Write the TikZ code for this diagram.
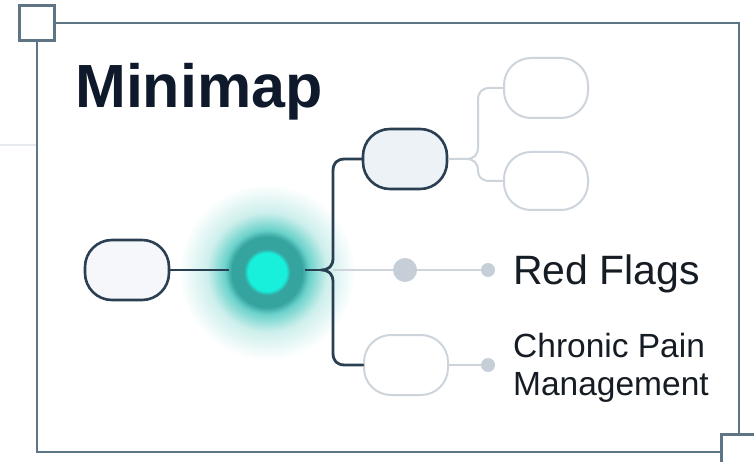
\documentclass[tikz,border=0pt]{standalone}
\usepackage{fontspec}
\setmainfont{Liberation Sans}
\definecolor{frameC}{HTML}{5E7585}
\definecolor{darkC}{HTML}{2B3F52}
\definecolor{lightC}{HTML}{CDD4DB}
\definecolor{dotC}{HTML}{C6CFD8}
\definecolor{pillFill}{HTML}{EDF2F7}
\definecolor{pillFillB}{HTML}{F5F7FA}
\definecolor{titleC}{HTML}{0E1A2B}
\definecolor{textC}{HTML}{151C24}
\definecolor{faintC}{HTML}{E6EAEE}
\definecolor{coreC}{HTML}{18F0DC}
\definecolor{ringC}{HTML}{35A39E}
\definecolor{glowA}{HTML}{6BD2CB}
\definecolor{glowB}{HTML}{CDEFEC}
% radial glow: 25bp is the rim of the shaded circle
\pgfdeclareradialshading{focusglow}{\pgfpoint{0bp}{0bp}}{%
  color(0bp)=(coreC); color(5.4bp)=(coreC); color(6.6bp)=(ringC);
  color(10bp)=(ringC); color(12bp)=(glowA); color(17bp)=(glowB);
  color(25bp)=(white); color(50bp)=(white)}
\tikzset{
  pill/.style={rectangle, rounded corners=27pt, minimum width=84pt,
    minimum height=60pt, line width=2.6pt, draw=darkC, fill=pillFill},
  ghostpill/.style={pill, draw=lightC, line width=2pt, fill=white},
  darkline/.style={draw=darkC, line width=2.8pt},
  lightline/.style={draw=lightC, line width=2pt},
  bigdot/.style={circle, fill=dotC, minimum size=24pt, inner sep=0pt},
  smalldot/.style={circle, fill=dotC, minimum size=14pt, inner sep=0pt},
  corner/.style={draw=frameC, line width=2.6pt, fill=white},
  label/.style={text=textC, inner sep=0pt}
}
\begin{document}
\begin{tikzpicture}[x=1pt, y=-1pt]
\useasboundingbox (0,0) rectangle (754,462);
\clip (0,0) rectangle (754,462);
\fill[white] (0,0) rectangle (754,462);

% faint guide line and the frame
\draw[faintC, line width=1.5pt] (0,145) -- (37,145);
\draw[frameC, line width=2.6pt] (37,23) rectangle (739,452);
\draw[corner] (19.5,5.5) rectangle (54.5,40.5);
\draw[corner] (721.5,434.5) rectangle (756.5,469.5);

% title
\node[anchor=base west, inner sep=0pt, text=titleC,
      font=\fontsize{61}{72}\selectfont\bfseries] (title) at (75,108) {Minimap};

% glowing focus node
\shade[shading=focusglow] (267,272) circle (88);
\node[circle, minimum size=76pt, inner sep=0pt] (focus) at (267,270) {};

% nodes
\node[pill, fill=pillFillB] (root) at (127,270) {};
\node[pill] (upper) at (405,159) {};
\node[ghostpill] (lower) at (406,365) {};
\node[ghostpill] (tr) at (546,88) {};
\node[ghostpill, minimum height=58pt] (br) at (546,181) {};
\node[bigdot] (gdot) at (405,270) {};
\node[smalldot] (rdot) at (488,270) {};
\node[smalldot] (cdot) at (488,365) {};

% brace joints
\coordinate (tip) at (321,270);
\coordinate (vt) at (333,258);
\coordinate (vb) at (333,282);
\coordinate (ut) at (333,171);
\coordinate (uh) at (345,159);
\coordinate (lt) at (333,353);
\coordinate (lh) at (345,365);
\coordinate (mid) at (333,270);

% dark connectors
\draw[darkline] (root.east) -- (focus.west);
\draw[darkline] (focus.east) -- (tip);
\draw[darkline, line cap=round, line join=round]
  (upper.west) -- (uh) .. controls (337,159) and (333,163) .. (ut)
  -- (vt) .. controls (333,266) and (329,270) .. (tip)
  .. controls (329,270) and (333,274) .. (vb)
  -- (lt) .. controls (333,361) and (337,365) .. (lh) -- (lower.west);

% light connectors
\coordinate (fork) at (466,159);
\coordinate (ftu) at (478,147);
\coordinate (ftt) at (478,100);
\coordinate (fth) at (490,88);
\coordinate (fbu) at (478,171);
\coordinate (fbh) at (490,181);
\draw[lightline] (upper.east) -- (fork)
  .. controls (474,159) and (478,155) .. (ftu) -- (ftt)
  .. controls (478,92) and (482,88) .. (fth) -- (tr.west);
\draw[lightline] (fork) .. controls (474,159) and (478,163) .. (fbu)
  .. controls (478,177) and (482,181) .. (fbh) -- (br.west);
\draw[lightline] (mid) -- (gdot) -- (rdot);
\draw[lightline] (lower.east) -- (cdot);

% labels
\node[label, anchor=base west, font=\fontsize{41}{48}\selectfont] (redflags) at (513,284) {Red Flags};
\node[label, anchor=north west, align=left, font=\fontsize{33.5}{38}\selectfont] (chronic) at (513,333) {Chronic Pain\\Management};
\end{tikzpicture}
\end{document}
